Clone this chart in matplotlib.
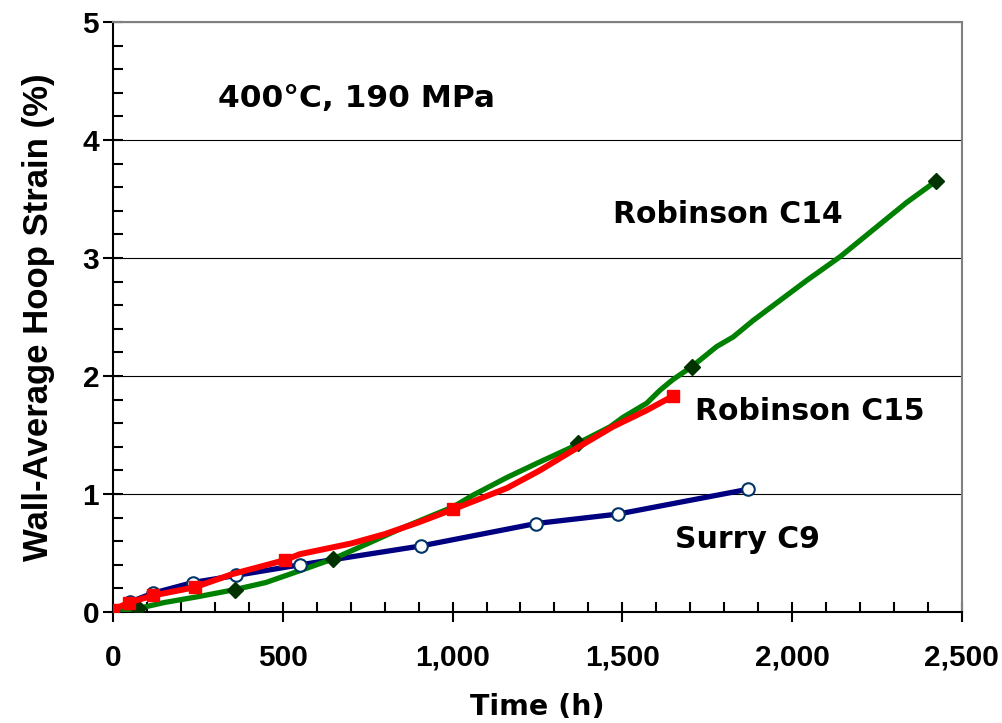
import matplotlib.pyplot as plt
from matplotlib.ticker import MultipleLocator, FuncFormatter

plt.rcParams['font.family'] = ['Liberation Sans', 'DejaVu Sans']
plt.rcParams['font.weight'] = 'bold'

# Robinson C14 - continuous trace and marked points
c14_t = [0, 40, 74, 150, 250, 359, 450, 550, 648, 750, 850, 950, 1001, 1060,
         1160, 1248, 1346, 1369, 1464, 1502, 1572, 1611, 1649, 1705, 1778,
         1826, 1885, 1964, 2043, 2141, 2239, 2337, 2423]
c14_s = [0.0, 0.02, 0.03, 0.08, 0.13, 0.19, 0.25, 0.35, 0.45, 0.58, 0.71, 0.83,
         0.89, 0.99, 1.14, 1.26, 1.39, 1.43, 1.57, 1.65, 1.77, 1.88, 1.97, 2.08,
         2.25, 2.33, 2.47, 2.64, 2.81, 3.01, 3.24, 3.47, 3.65]
c14_mt = [74, 359, 648, 1369, 1705, 2423]
c14_ms = [0.03, 0.19, 0.45, 1.43, 2.08, 3.65]

# Robinson C15
c15_t = [0, 47, 118, 241, 350, 506, 550, 600, 700, 800, 900, 1001, 1160,
         1257, 1366, 1472, 1572, 1649]
c15_s = [0.02, 0.08, 0.14, 0.21, 0.32, 0.44, 0.49, 0.52, 0.58, 0.66, 0.76, 0.87,
         1.05, 1.20, 1.39, 1.57, 1.71, 1.83]
c15_mt = [0, 47, 118, 241, 506, 1001, 1649]
c15_ms = [0.02, 0.08, 0.14, 0.21, 0.44, 0.87, 1.83]

# Surry C9
c9_t = [0, 50, 118, 235, 362, 551, 907, 1246, 1487, 1870]
c9_s = [0.0, 0.085, 0.16, 0.25, 0.31, 0.40, 0.56, 0.75, 0.83, 1.04]

fig = plt.figure(figsize=(10.02, 7.23), dpi=100)
ax = fig.add_axes([0.1128, 0.1535, 0.8472, 0.8161])

ax.plot(c9_t, c9_s, color='#000080', lw=3.8, zorder=3)
ax.plot(c9_t, c9_s, ls='none', marker='o', ms=9, mfc='white',
        mec='#003366', mew=1.5, zorder=4)
ax.plot(c14_t, c14_s, color='#008000', lw=3.8, zorder=3)
ax.plot(c14_mt, c14_ms, ls='none', marker='D', ms=8, color='#003300', zorder=4)
ax.plot(c15_t, c15_s, color='#ff0000', lw=4.3, zorder=5)
ax.plot(c15_mt, c15_ms, ls='none', marker='s', ms=8, color='#ff0000',
        mec='#ff0000', zorder=6)

ax.set_xlim(0, 2500)
ax.set_ylim(0, 5)
ax.xaxis.set_major_locator(MultipleLocator(500))
ax.xaxis.set_minor_locator(MultipleLocator(100))
ax.yaxis.set_major_locator(MultipleLocator(1))
ax.yaxis.set_minor_locator(MultipleLocator(0.2))
ax.xaxis.set_major_formatter(FuncFormatter(lambda v, p: f'{v:,.0f}'))
ax.tick_params(which='major', direction='inout', length=14, width=1.5,
               labelsize=21.5)
ax.tick_params(axis='x', which='major', pad=16)
ax.tick_params(axis='y', which='major', pad=3)
ax.tick_params(which='minor', direction='in', length=7, width=1.5)
ax.grid(axis='y', which='major', color='black', lw=0.8)

for side in ['top', 'right']:
    ax.spines[side].set_color('gray')
    ax.spines[side].set_linewidth(1.5)
for side in ['left', 'bottom']:
    ax.spines[side].set_linewidth(1.5)

ax.set_xlabel('Time (h)', fontsize=20.5, fontweight='bold', labelpad=15,
              family='DejaVu Sans')
ax.set_ylabel('Wall-Average Hoop Strain (%)', fontsize=25, fontweight='bold',
              labelpad=20)

note = dict(fontweight='bold', family='DejaVu Sans', va='baseline')
ax.text(309, 4.28, '400°C, 190 MPa', fontsize=22.5, **note)
ax.text(1472, 3.30, 'Robinson C14', fontsize=21.5, **note)
ax.text(1714, 1.63, 'Robinson C15', fontsize=21.5, **note)
ax.text(1655, 0.54, 'Surry C9', fontsize=21.5, **note)

plt.savefig('out.png', dpi=100)
